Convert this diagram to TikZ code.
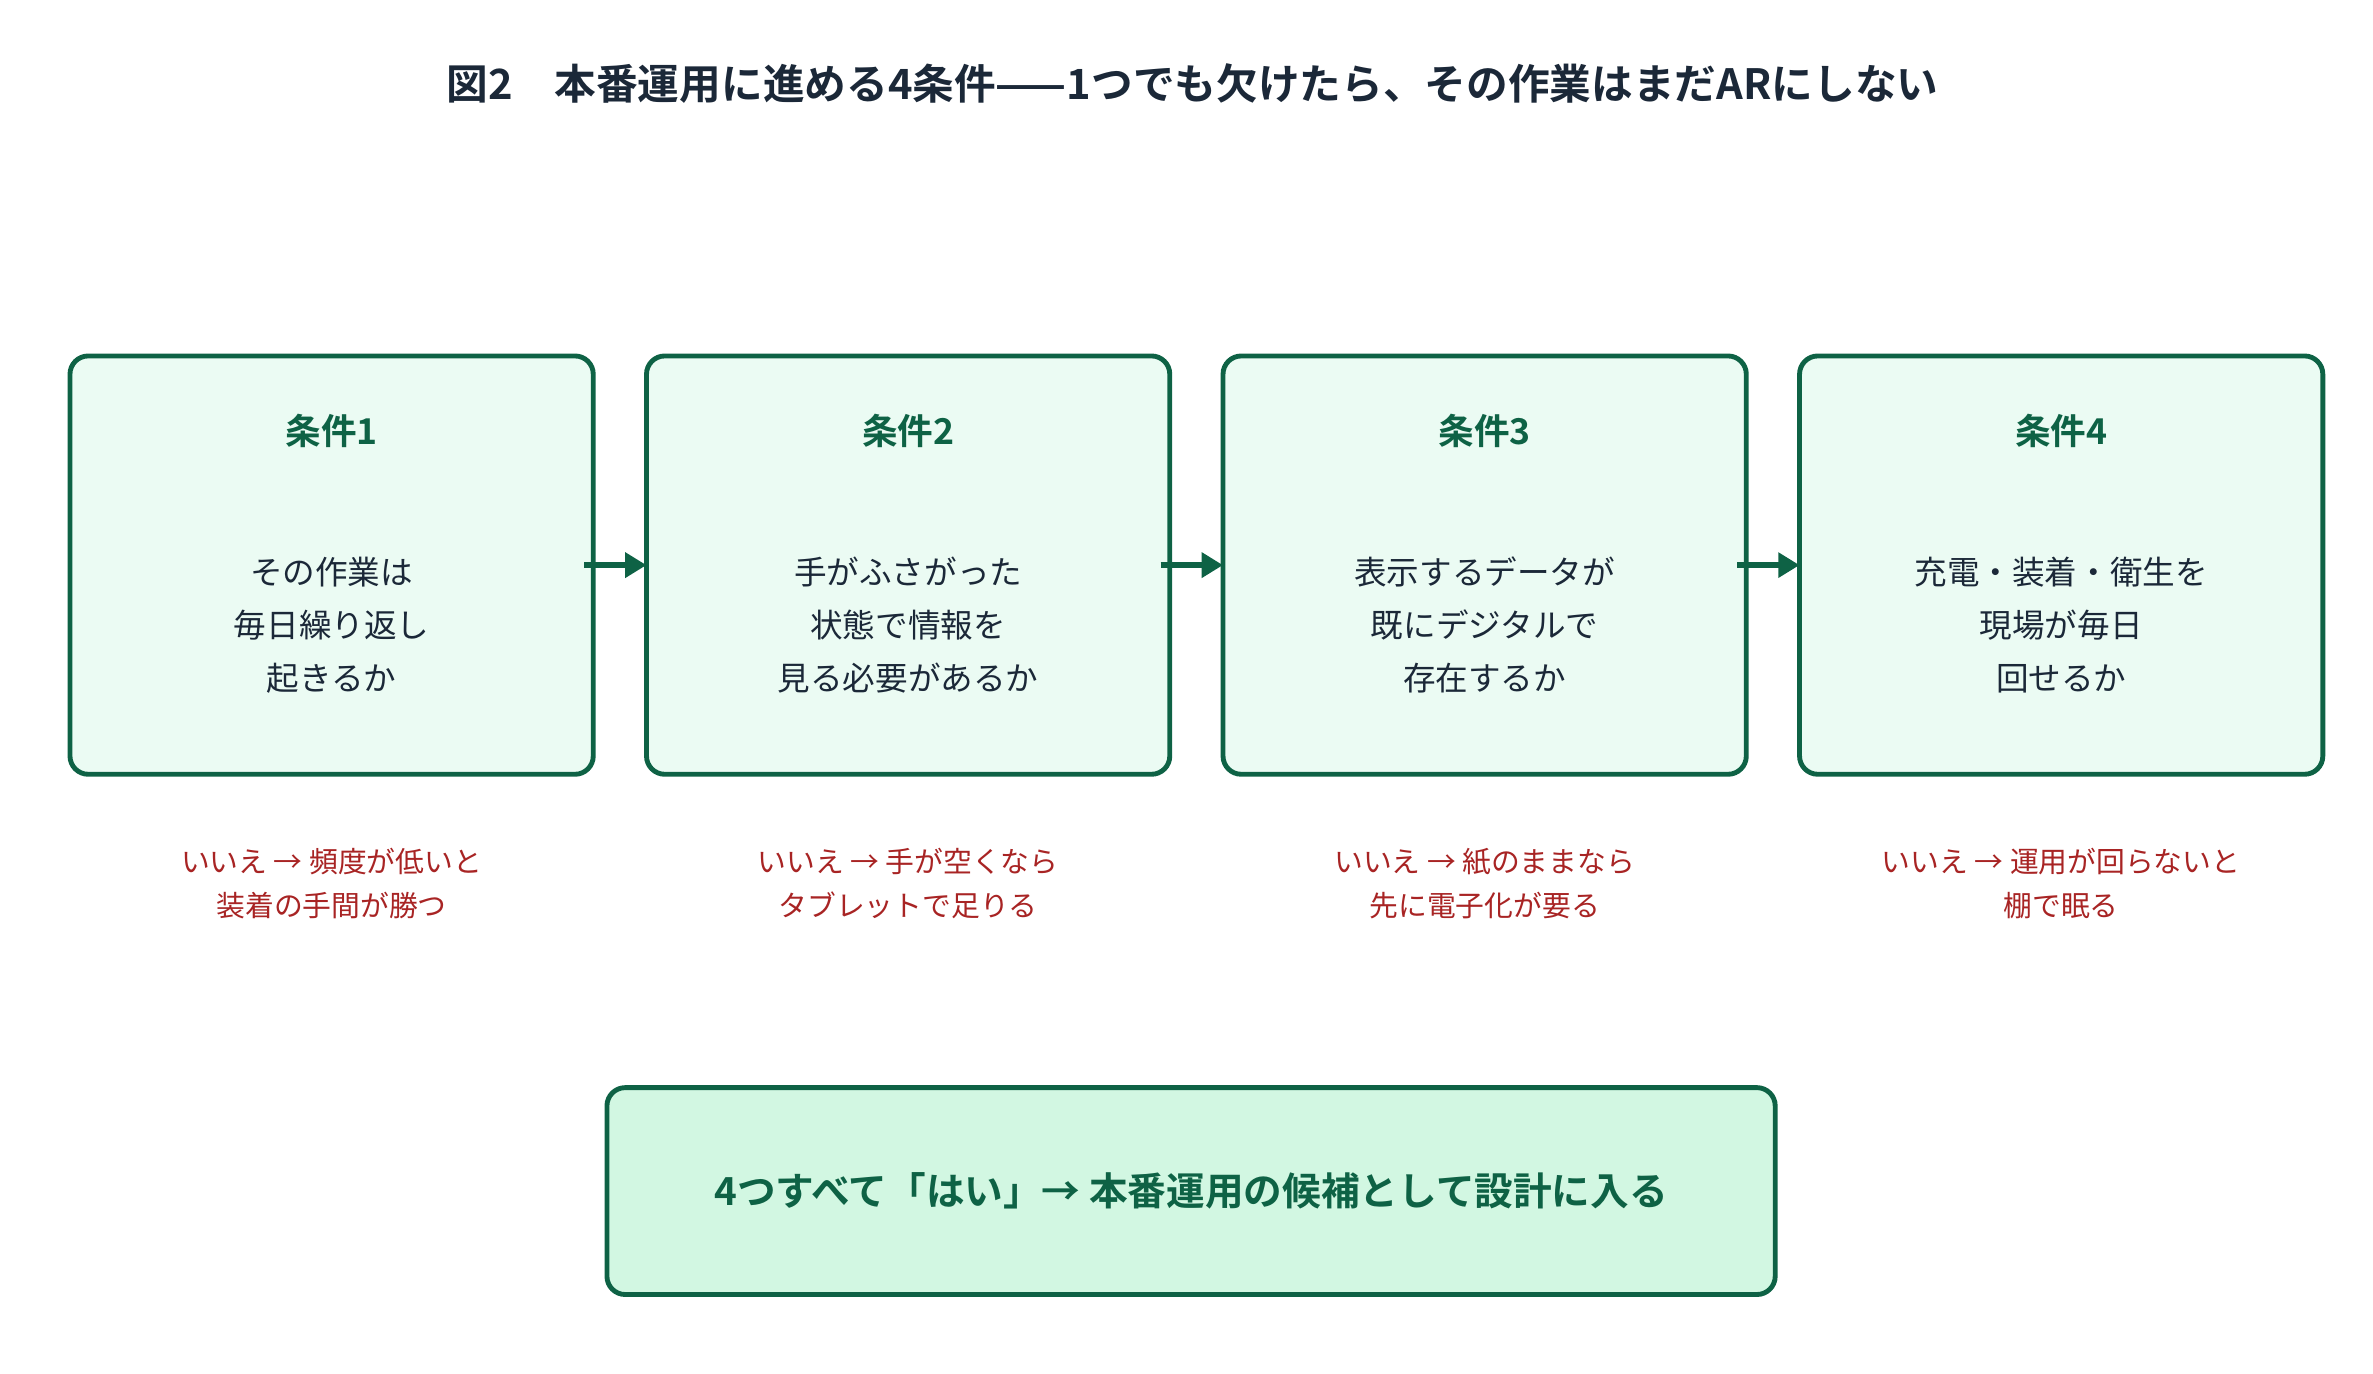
\documentclass[tikz,border=0pt]{standalone}
\usepackage{fontspec}
\setmainfont{Noto Sans CJK JP}[BoldFont={Noto Sans CJK JP Bold}]
\usetikzlibrary{arrows.meta}
\definecolor{bd}{HTML}{0E6245}
\definecolor{fl}{HTML}{EBFBF3}
\definecolor{fl2}{HTML}{D2F7E2}
\definecolor{rd}{HTML}{A82424}
\definecolor{tt}{HTML}{1B2838}
\begin{document}
\begin{tikzpicture}[x=1bp,y=-1bp,
 box/.style={draw=bd,line width=3.2bp,fill=fl,rounded corners=12bp,minimum width=344bp,minimum height=275bp,anchor=north west,outer sep=0pt},
 hd/.style={font=\fontsize{23.5}{27}\selectfont\bfseries,text=bd},
 bt/.style={font=\fontsize{21.5}{35}\selectfont,text=tt,align=center},
 no/.style={font=\fontsize{19}{29}\selectfont,text=rd,align=center},
 ar/.style={draw=bd,line width=4bp,-{Triangle[length=14bp,width=16bp]}}]
\useasboundingbox (0,0) rectangle (1560,903);
\node[font=\fontsize{27.5}{30}\selectfont\bfseries,text=tt] (title) at (784,55) {図2\quad 本番運用に進める4条件——1つでも欠けたら、その作業はまだARにしない};
\foreach \i/\x/\h/\b/\n in {
 1/46/条件1/{その作業は\\毎日繰り返し\\起きるか}/{いいえ → 頻度が低いと\\装着の手間が勝つ},
 2/425/条件2/{手がふさがった\\状態で情報を\\見る必要があるか}/{いいえ → 手が空くなら\\タブレットで足りる},
 3/804/条件3/{表示するデータが\\既にデジタルで\\存在するか}/{いいえ → 紙のままなら\\先に電子化が要る},
 4/1183/条件4/{充電・装着・衛生を\\現場が毎日\\回せるか}/{いいえ → 運用が回らないと\\棚で眠る}}{
 \node[box] (b\i) at (\x,234) {};
 \node[hd] (h\i) at (\x+172,283) {\h};
 \node[bt] (t\i) at (\x+172,411) {\b};
 \node[no] (n\i) at (\x+172,581) {\n};
}
\draw[ar] (b1.east) ++(-6,0) -- (b2.west);
\draw[ar] (b2.east) ++(-6,0) -- (b3.west);
\draw[ar] (b3.east) ++(-6,0) -- (b4.west);
\node[draw=bd,line width=3.2bp,fill=fl2,rounded corners=12bp,minimum width=768bp,minimum height=136bp,anchor=north west,outer sep=0pt] (fin) at (399,715) {};
\node[font=\fontsize{25.5}{28}\selectfont\bfseries,text=bd] (ft) at (fin.center) {4つすべて「はい」→ 本番運用の候補として設計に入る};
\end{tikzpicture}
\end{document}
